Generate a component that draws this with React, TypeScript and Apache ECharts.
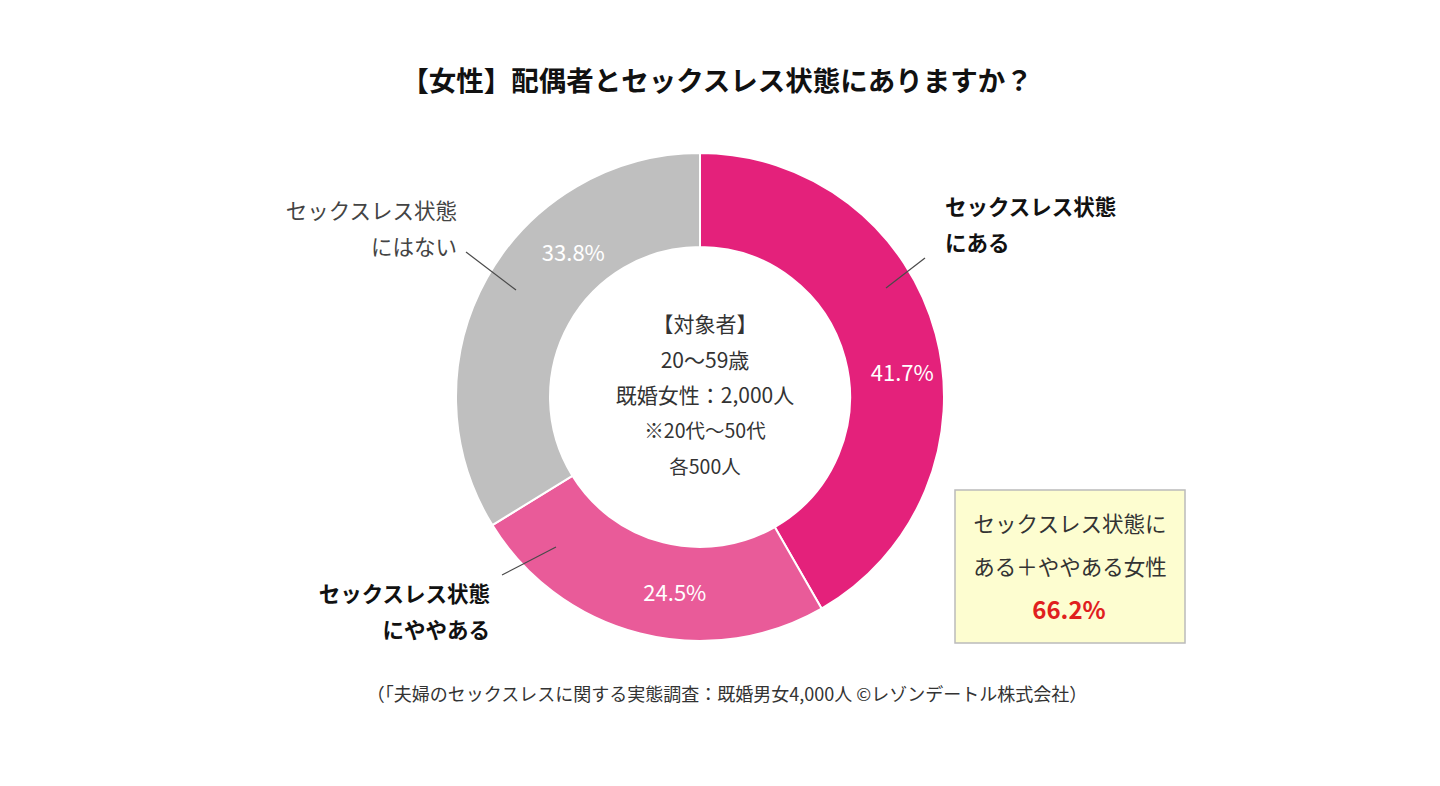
import React, { useEffect, useRef } from "react";
import * as echarts from "echarts";

const categories = ["セックスレス状態にある", "セックスレス状態にややある", "セックスレス状態にはない"];
const values = [41.7, 24.5, 33.8];
const colors = ["#E4217B", "#E95B99", "#BFBFBF"];
const titleText = "【女性】配偶者とセックスレス状態にありますか？";
const centerLines = ["【対象者】", "20～59歳", "既婚女性：2,000人", "※20代～50代", "各500人"];
const boxLines = ["セックスレス状態に", "ある＋ややある女性"];
const boxValue = "66.2%";
const footnote = "（「夫婦のセックスレスに関する実態調査：既婚男女4,000人 ©レゾンデートル株式会社）";

const FONT = "'Noto Sans CJK JP', 'Noto Sans', sans-serif";

export default function App() {
  const ref = useRef<HTMLDivElement>(null);
  useEffect(() => {
    if (!ref.current) return;
    const chart = echarts.init(ref.current, null, { renderer: "svg" });
    const labelShift = [
      { dx: 9, dy: 26 },
      { dx: 24, dy: 0 },
      { dx: 48, dy: -49 },
    ];
    const lineStyle = { stroke: "#4a4a4a", lineWidth: 1.2 };
    chart.setOption({
      animation: false,
      backgroundColor: "#ffffff",
      textStyle: { fontFamily: FONT },
      title: {
        text: titleText,
        left: 712,
        top: 60,
        textAlign: "center",
        textStyle: { fontSize: 27.5, fontWeight: "bold", color: "#111", fontFamily: FONT },
      },
      series: [
        {
          type: "pie",
          center: [700, 397],
          radius: [150, 244],
          startAngle: 90,
          clockwise: true,
          itemStyle: { borderColor: "#ffffff", borderWidth: 2 },
          label: {
            show: true,
            position: "inside",
            formatter: (p: any) => p.value.toFixed(1) + "%",
            color: "#ffffff",
            fontSize: 22,
            fontFamily: FONT,
          },
          labelLayout: (p: any) => labelShift[p.dataIndex],
          labelLine: { show: false },
          emphasis: { disabled: true },
          data: categories.map((c, i) => ({ name: c, value: values[i], itemStyle: { color: colors[i] } })),
        },
      ],
      graphic: [
        // center text
        ...centerLines.map((t, i) => ({
          type: "text",
          x: 705,
          y: 323 + i * 35.5,
          z: 100,
          style: {
            text: t,
            fontSize: i >= 3 ? 19.5 : 21,
            fill: "#333",
            fontFamily: FONT,
            textAlign: "center",
            textVerticalAlign: "middle",
          },
        })),
        // outer labels
        {
          type: "text",
          x: 945,
          y: 205,
          z: 100,
          style: { text: "セックスレス状態", fontSize: 21.5, fontWeight: "bold", fill: "#111", fontFamily: FONT, textAlign: "left", textVerticalAlign: "middle" },
        },
        {
          type: "text",
          x: 945,
          y: 241,
          z: 100,
          style: { text: "にある", fontSize: 21.5, fontWeight: "bold", fill: "#111", fontFamily: FONT, textAlign: "left", textVerticalAlign: "middle" },
        },
        { type: "line", z: 100, shape: { x1: 886, y1: 288, x2: 925, y2: 258 }, style: lineStyle },
        {
          type: "text",
          x: 457,
          y: 209,
          z: 100,
          style: { text: "セックスレス状態", fontSize: 21.5, fill: "#444", fontFamily: FONT, textAlign: "right", textVerticalAlign: "middle" },
        },
        {
          type: "text",
          x: 457,
          y: 245,
          z: 100,
          style: { text: "にはない", fontSize: 21.5, fill: "#444", fontFamily: FONT, textAlign: "right", textVerticalAlign: "middle" },
        },
        { type: "line", z: 100, shape: { x1: 466, y1: 252, x2: 516, y2: 290 }, style: lineStyle },
        {
          type: "text",
          x: 490,
          y: 592,
          z: 100,
          style: { text: "セックスレス状態", fontSize: 21.5, fontWeight: "bold", fill: "#111", fontFamily: FONT, textAlign: "right", textVerticalAlign: "middle" },
        },
        {
          type: "text",
          x: 490,
          y: 628,
          z: 100,
          style: { text: "にややある", fontSize: 21.5, fontWeight: "bold", fill: "#111", fontFamily: FONT, textAlign: "right", textVerticalAlign: "middle" },
        },
        { type: "line", z: 100, shape: { x1: 502, y1: 575, x2: 556, y2: 547 }, style: lineStyle },
        // summary box
        {
          type: "rect",
          z: 100,
          shape: { x: 955, y: 490, width: 230, height: 153 },
          style: { fill: "#FDFDD0", stroke: "#BBBBBB", lineWidth: 1.5 },
        },
        ...boxLines.map((t, i) => ({
          type: "text",
          x: 1070,
          y: 522 + i * 43,
          z: 101,
          style: { text: t, fontSize: 21.5, fill: "#333", fontFamily: FONT, textAlign: "center", textVerticalAlign: "middle" },
        })),
        {
          type: "text",
          x: 1069,
          y: 608,
          z: 101,
          style: { text: boxValue, fontSize: 24, fontWeight: "bold", fill: "#E0201E", fontFamily: FONT, textAlign: "center", textVerticalAlign: "middle" },
        },
        // footnote
        {
          type: "text",
          x: 727,
          y: 693,
          z: 100,
          style: { text: footnote, fontSize: 18, fill: "#333", fontFamily: FONT, textAlign: "center", textVerticalAlign: "middle" },
        },
      ],
    });
    return () => chart.dispose();
  }, []);
  return <div ref={ref} style={{ position: "absolute", left: 0, top: 0, width: 1440, height: 786 }} />;
}
